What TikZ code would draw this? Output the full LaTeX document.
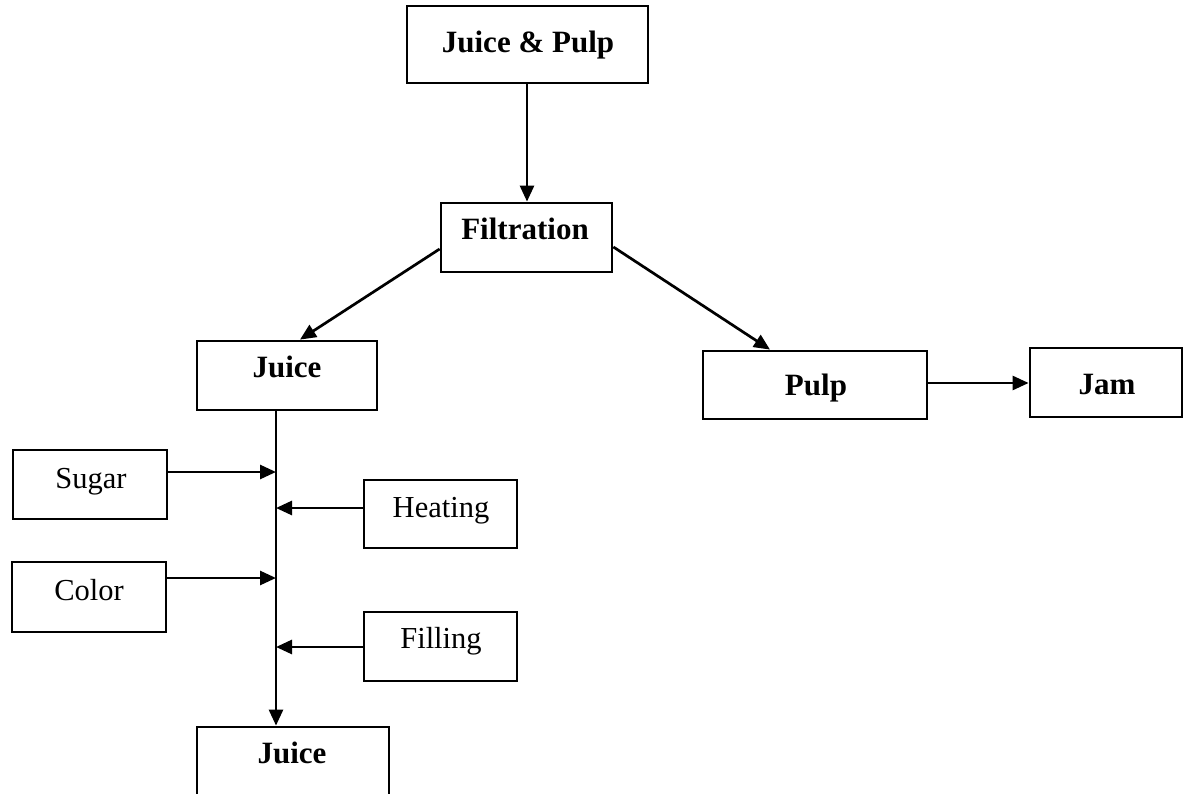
\documentclass[tikz,border=0pt]{standalone}
\usepackage{fontspec}
\setmainfont{Liberation Serif}
\usetikzlibrary{arrows.meta}
\begin{document}
\begin{tikzpicture}[x=1pt,y=-1pt,
  boxnode/.style={draw=black,line width=2.8pt,rectangle,inner sep=0pt},
  lbl/.style={anchor=base,inner sep=0pt,font=\fontsize{30.5}{35}\selectfont},
  blbl/.style={lbl,font=\fontsize{31}{35}\selectfont\bfseries},
  arr/.style={line width=2.7pt,-{Triangle[length=16pt,width=14pt]}}]
\useasboundingbox (0,0) rectangle (1183,794);
\clip (0,0) rectangle (1183,794);
% boxes: defined by corners
\newcommand{\mybox}[5]{\node[boxnode,minimum width=#4-#2,minimum height=#5-#3] (#1) at ({(#2+#4)/2},{(#3+#5)/2}) {};}
\mybox{jp}{407}{6}{648}{83}
\mybox{filt}{441}{203}{612}{272}
\mybox{juiceA}{197}{341}{377}{410}
\mybox{pulp}{703}{351}{927}{419}
\mybox{jam}{1030}{348}{1182}{417}
\mybox{sugar}{13}{450}{167}{519}
\mybox{heat}{364}{480}{517}{548}
\mybox{color}{12}{562}{166}{632}
\mybox{fill}{364}{612}{517}{681}
\mybox{juiceB}{197}{727}{389}{805}
% labels
\node[blbl] (tjp) at (528,53) {Juice \& Pulp};
\node[blbl] (tfilt) at (525,240) {Filtration};
\node[blbl] (tjuiceA) at (287,377) {Juice};
\node[blbl] (tpulp) at (816,395) {Pulp};
\node[blbl] (tjam) at (1107,394) {Jam};
\node[lbl] (tsugar) at (91,488) {Sugar};
\node[lbl] (theat) at (441,517) {Heating};
\node[lbl] (tcolor) at (89,600) {Color};
\node[lbl] (tfill) at (441,648) {Filling};
\node[blbl] (tjuiceB) at (292,763) {Juice};
% coordinates on the main line
\coordinate (m1) at (276,472);
\coordinate (m2) at (276,508);
\coordinate (m3) at (276,578);
\coordinate (m4) at (276,647);
% connectors
\draw[arr] (jp.south -| 527,0) -- (filt.north -| 527,0);
\draw[arr] (filt.west |- 0,249) -- (juiceA.north -| 300,0);
\draw[arr] (filt.east |- 0,247) -- (pulp.north -| 770,0);
\draw[arr] (pulp.east |- 0,383) -- (jam.west |- 0,383);
\draw[arr] (juiceA.south -| 276,0) -- (juiceB.north -| 276,0);
\draw[arr] (sugar.east |- m1) -- (m1);
\draw[arr] (heat.west |- m2) -- (m2);
\draw[arr] (color.east |- m3) -- (m3);
\draw[arr] (fill.west |- m4) -- (m4);
\end{tikzpicture}
\end{document}
